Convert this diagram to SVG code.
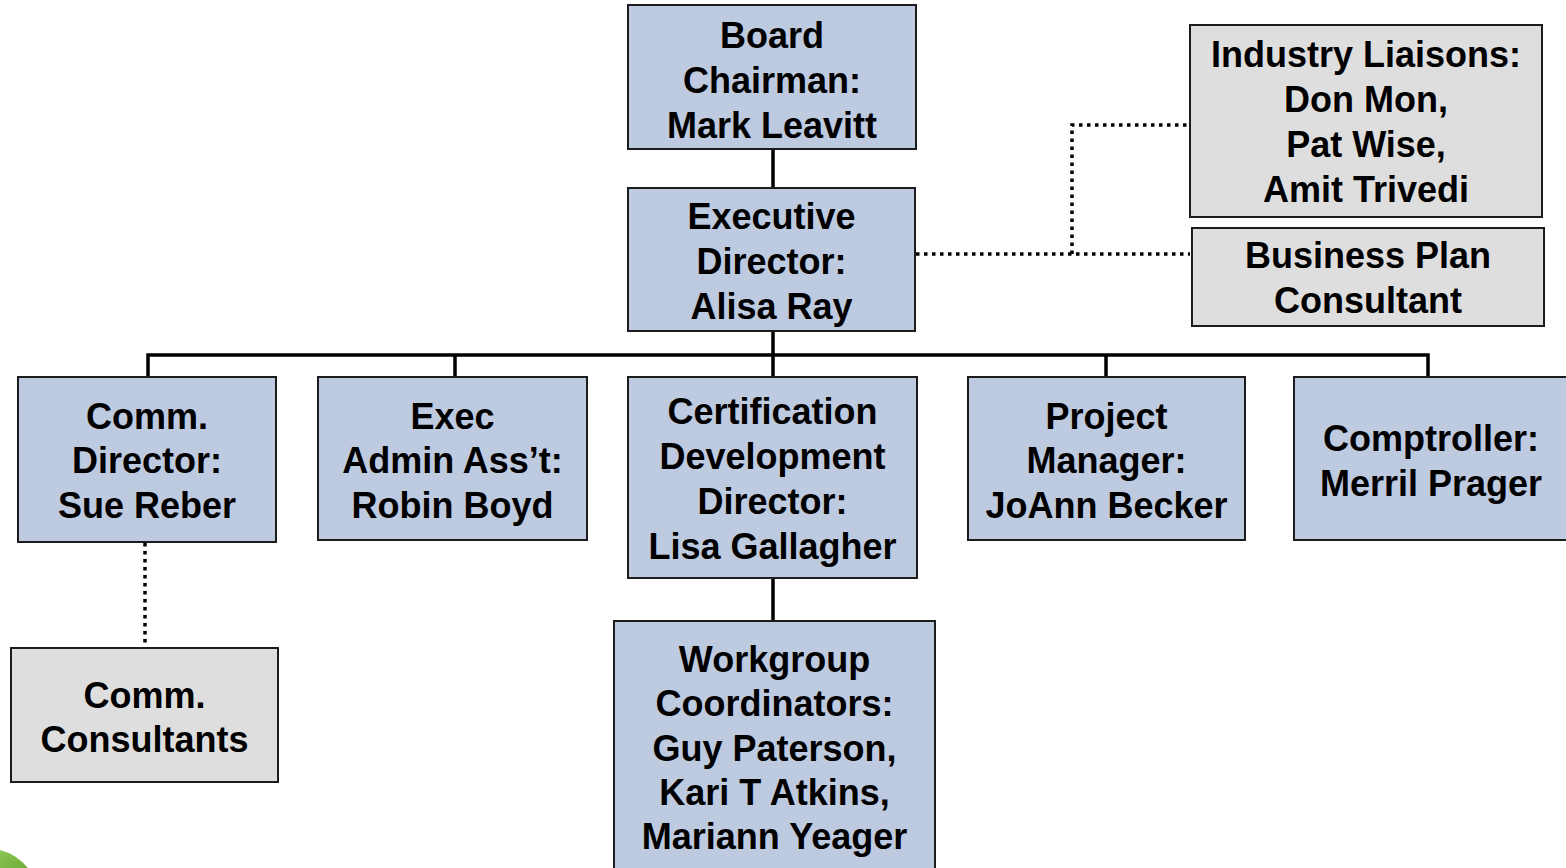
<svg xmlns="http://www.w3.org/2000/svg" width="1566" height="868" viewBox="0 0 1566 868">
  <style>
    .box { stroke: #1c1c1c; stroke-width: 2; }
    .staff { fill: #bdcadf; }
    .advisor { fill: #dedede; }
    .label { font-family: "Liberation Sans", Arial, sans-serif; font-weight: bold; font-size: 36px; fill: #000; text-anchor: middle; }
    .solid { fill: none; stroke: #000; stroke-width: 3.5; }
    .dotted { fill: none; stroke: #000; stroke-width: 3.5; stroke-dasharray: 3.5 4.5; }
  </style>
  <defs>
    <linearGradient id="leaf" x1="0" y1="0" x2="1" y2="1">
      <stop offset="0" stop-color="#8cc653"/>
      <stop offset="1" stop-color="#6eae3c"/>
    </linearGradient>
  </defs>

  <rect width="1566" height="868" fill="#ffffff"/>

  <!-- corner ornament -->
  <path d="M0,850 Q16,854 28,868 L0,868 Z" fill="url(#leaf)"/>

  <!-- reporting lines -->
  <g id="connectors">
    <path class="solid" d="M773,149 V188"/>
    <path class="solid" d="M773,331 V355"/>
    <path class="solid" d="M148,377 V355 H1428 V377"/>
    <path class="solid" d="M455,355 V377"/>
    <path class="solid" d="M773,355 V377"/>
    <path class="solid" d="M1106,355 V377"/>
    <path class="solid" d="M773,578 V621"/>
    <path class="dotted" d="M916,254 H1190"/>
    <path class="dotted" d="M1072,254 V125 H1189"/>
    <path class="dotted" d="M145,543 V648"/>
  </g>

  <g id="board-chairman">
    <rect class="box staff" x="628" y="5" width="288" height="144"/>
    <text class="label" x="772"><tspan x="772" y="48">Board</tspan><tspan x="772" y="93">Chairman:</tspan><tspan x="772" y="138">Mark Leavitt</tspan></text>
  </g>

  <g id="executive-director">
    <rect class="box staff" x="628" y="188" width="287" height="143"/>
    <text class="label"><tspan x="771.5" y="229">Executive</tspan><tspan x="771.5" y="274">Director:</tspan><tspan x="771.5" y="319">Alisa Ray</tspan></text>
  </g>

  <g id="industry-liaisons">
    <rect class="box advisor" x="1190" y="25" width="352" height="192"/>
    <text class="label"><tspan x="1366" y="67">Industry Liaisons:</tspan><tspan x="1366" y="112">Don Mon,</tspan><tspan x="1366" y="157">Pat Wise,</tspan><tspan x="1366" y="202">Amit Trivedi</tspan></text>
  </g>

  <g id="business-plan-consultant">
    <rect class="box advisor" x="1192" y="228" width="352" height="98"/>
    <text class="label"><tspan x="1368" y="268">Business Plan</tspan><tspan x="1368" y="313">Consultant</tspan></text>
  </g>

  <g id="comm-director">
    <rect class="box staff" x="18" y="377" width="258" height="165"/>
    <text class="label"><tspan x="147" y="429">Comm.</tspan><tspan x="147" y="473">Director:</tspan><tspan x="147" y="518">Sue Reber</tspan></text>
  </g>

  <g id="exec-admin">
    <rect class="box staff" x="318" y="377" width="269" height="163"/>
    <text class="label"><tspan x="452.5" y="429">Exec</tspan><tspan x="452.5" y="473">Admin Ass’t:</tspan><tspan x="452.5" y="518">Robin Boyd</tspan></text>
  </g>

  <g id="certification-director">
    <rect class="box staff" x="628" y="377" width="289" height="201"/>
    <text class="label"><tspan x="772.5" y="424">Certification</tspan><tspan x="772.5" y="469">Development</tspan><tspan x="772.5" y="514">Director:</tspan><tspan x="772.5" y="559">Lisa Gallagher</tspan></text>
  </g>

  <g id="project-manager">
    <rect class="box staff" x="968" y="377" width="277" height="163"/>
    <text class="label"><tspan x="1106.5" y="429">Project</tspan><tspan x="1106.5" y="473">Manager:</tspan><tspan x="1106.5" y="518">JoAnn Becker</tspan></text>
  </g>

  <g id="comptroller">
    <rect class="box staff" x="1294" y="377" width="275" height="163"/>
    <text class="label"><tspan x="1431" y="451">Comptroller:</tspan><tspan x="1431" y="496">Merril Prager</tspan></text>
  </g>

  <g id="comm-consultants">
    <rect class="box advisor" x="11" y="648" width="267" height="134"/>
    <text class="label"><tspan x="144.5" y="708">Comm.</tspan><tspan x="144.5" y="752">Consultants</tspan></text>
  </g>

  <g id="workgroup-coordinators">
    <rect class="box staff" x="614" y="621" width="321" height="260"/>
    <text class="label"><tspan x="774.5" y="672">Workgroup</tspan><tspan x="774.5" y="716">Coordinators:</tspan><tspan x="774.5" y="761">Guy Paterson,</tspan><tspan x="774.5" y="805">Kari T Atkins,</tspan><tspan x="774.5" y="849">Mariann Yeager</tspan></text>
  </g>
</svg>
